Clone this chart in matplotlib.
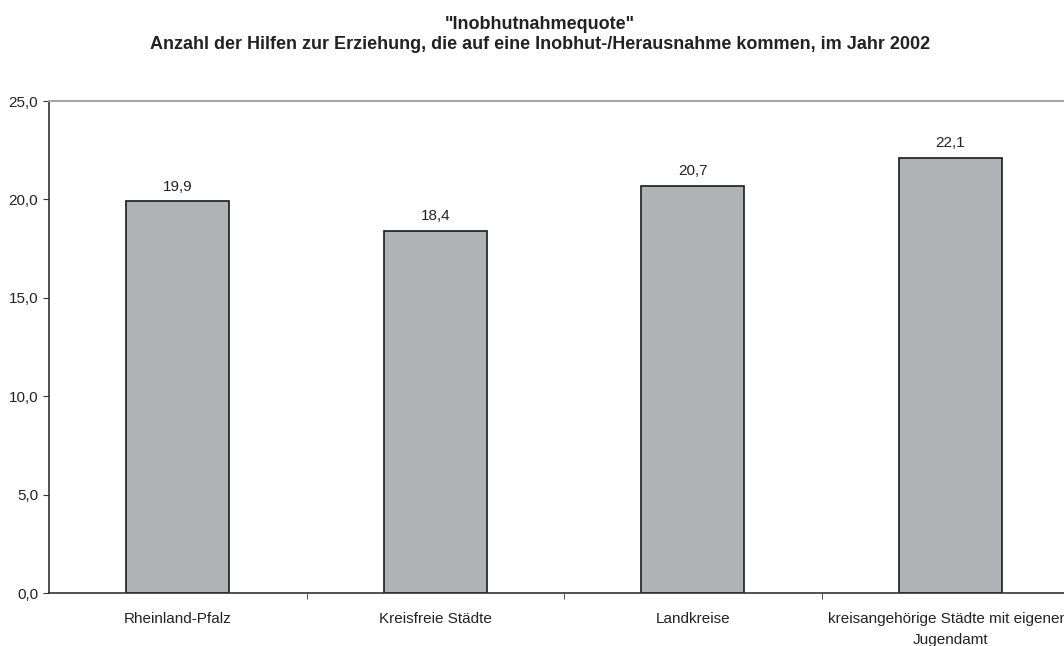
import matplotlib.pyplot as plt
import numpy as np

plt.rcParams['font.family'] = ['Liberation Sans', 'DejaVu Sans']

# data
categories = ['Rheinland-Pfalz', 'Kreisfreie Städte', 'Landkreise',
              'kreisangehörige Städte mit eigenem\nJugendamt']
values = [19.9, 18.4, 20.7, 22.1]
yticks = [0, 5, 10, 15, 20, 25]

fig = plt.figure(figsize=(10.64, 6.46), dpi=100)
# axes runs slightly past the right edge, like in the original
ax = fig.add_axes([0.0461, 0.082, 0.968, 0.7616])

x = np.arange(len(categories))
ax.bar(x, values, width=0.4, color='#b0b3b6', edgecolor='#1a1a1a', linewidth=1.2, zorder=2)

for xi, v in zip(x, values):
    ax.annotate(f'{v:.1f}'.replace('.', ','), (xi, v), xytext=(0, 5.5),
                textcoords='offset points', ha='center', va='bottom',
                fontsize=11, color='#222222')

ax.set_xlim(-0.5, len(categories) - 0.5)
ax.set_ylim(0, 25)
ax.set_yticks(yticks)
ax.set_yticklabels([f'{t:.1f}'.replace('.', ',') for t in yticks], fontsize=11, color='#222222')

# category labels centered, ticks on the boundaries
ax.set_xticks(x)
ax.set_xticklabels(categories, fontsize=11, color='#222222', linespacing=1.6)
ax.tick_params(axis='x', which='major', length=0, pad=14)
ax.set_xticks(np.arange(0.5, len(categories) - 0.5, 1), minor=True)
ax.tick_params(axis='x', which='minor', length=4, direction='out', color='#333333')
ax.tick_params(axis='y', length=4.3, direction='out', color='#333333', pad=3.5)

ax.spines['top'].set_color('#a6a6a6')
ax.spines['top'].set_linewidth(1.5)
ax.spines['right'].set_color('#a6a6a6')
ax.spines['left'].set_color('#333333')
ax.spines['bottom'].set_color('#333333')
ax.spines['left'].set_linewidth(1.2)
ax.spines['bottom'].set_linewidth(1.2)

fig.text(0.5075, 0.947, '"Inobhutnahmequote"\nAnzahl der Hilfen zur Erziehung, die auf eine Inobhut-/Herausnahme kommen, im Jahr 2002',
         ha='center', va='center', fontsize=13, fontweight='bold', color='#222222', linespacing=1.25)

fig.savefig('out.png', dpi=100)
